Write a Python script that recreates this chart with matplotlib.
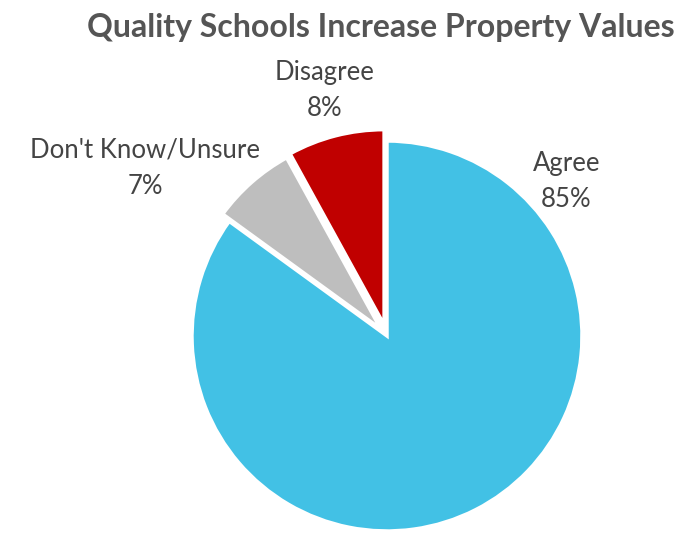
import matplotlib
matplotlib.use("Agg")
import matplotlib.pyplot as plt

# Survey answers, clockwise from 12 o'clock
labels = ["Agree", "Don't Know/Unsure", "Disagree"]
shares = [85, 7, 8]
colors = ["#42C1E5", "#BEBEBE", "#C00000"]
explode = [0.0, 0.05, 0.06]

# label anchors in data units (pie radius = 1)
label_pos = [(0.92, 0.79), (-1.24, 0.86), (-0.32, 1.26)]

W, H = 698, 535
fig = plt.figure(figsize=(W / 100, H / 100), dpi=100)
fig.patch.set_facecolor("white")

# pie centre and radius in pixels
cx, cy, R = 387, 336, 195
half = 1.25 * R
ax = fig.add_axes([(cx - half) / W, (H - cy - half) / H, 2 * half / W, 2 * half / H])
ax.set_aspect("equal")
ax.axis("off")

wedges, _ = ax.pie(shares, colors=colors, explode=explode, startangle=90,
                   counterclock=False, radius=1.0,
                   wedgeprops=dict(edgecolor="white", linewidth=2.5))
ax.set_xlim(-1.25, 1.25)
ax.set_ylim(-1.25, 1.25)

for lab, val, (x, y) in zip(labels, shares, label_pos):
    ax.text(x, y, f"{lab}\n{val}%", ha="center", va="center",
            fontsize=18.5, family="Lato", color="#444444", linespacing=1.55,
            clip_on=False)

fig.text(381 / W, 1 - 27 / H, "Quality Schools Increase Property Values",
         ha="center", va="center", fontsize=23, family="Lato",
         fontweight="bold", color="#555555")

fig.savefig("out.png", dpi=100)
